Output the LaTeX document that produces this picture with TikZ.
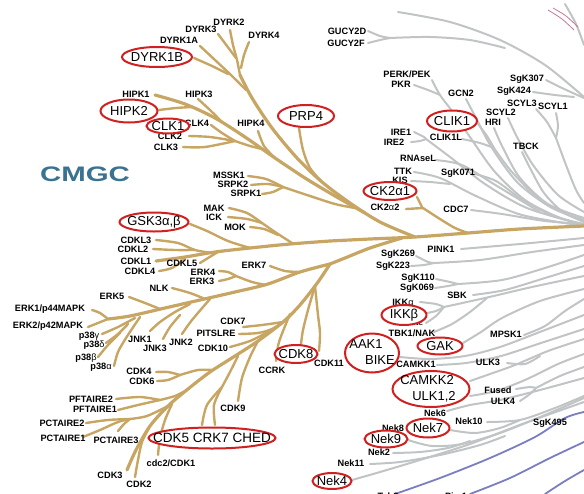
\documentclass[tikz,border=0pt]{standalone}
\usepackage{fontspec}
\setmainfont{Liberation Sans}
\usepackage{graphicx}
\usetikzlibrary{shapes.geometric}
\definecolor{tanbr}{RGB}{199,166,100}
\definecolor{grybr}{RGB}{192,196,196}
\definecolor{blubr}{RGB}{122,126,190}
\definecolor{pinkbr}{RGB}{196,120,150}
\definecolor{ringred}{RGB}{208,32,32}
\definecolor{cmgcblue}{RGB}{58,114,145}
\tikzset{
  tw/.style={draw=tanbr,line width=2.4pt,line cap=round},
  tk/.style={draw=tanbr,line width=3.2pt,line cap=round},
  gw/.style={draw=grybr,line width=2pt,line cap=round},
  bw/.style={draw=blubr,line width=1.8pt,line cap=round},
  lab/.style={font=\bfseries\fontsize{9.2}{10}\selectfont,inner sep=0pt},
  big/.style={font=\fontsize{13}{14}\selectfont,inner sep=0pt},
  ring/.style={draw=ringred,line width=2pt,fill=white,ellipse,inner sep=0pt},
}
\begin{document}
\begin{tikzpicture}[x=1pt,y=-1pt]
\useasboundingbox (0,0) rectangle (584,493);
\clip (0,0) rectangle (584,493);

% other groups, top right
\draw[gw] plot[smooth] coordinates {(398,12) (450,22) (500,40) (545,65) (584,97)};
\draw[gw] plot[smooth] coordinates {(368,31) (380,36) (390,38)};
\draw[gw] plot[smooth] coordinates {(368,43) (380,40) (390,38)};
\draw[gw] plot[smooth] coordinates {(390,38) (430,37) (470,40) (505,48)};
\draw[gw] plot[smooth] coordinates {(565,4) (576,24) (584,45)};
\draw[pinkbr,line width=0.8pt] plot[smooth] coordinates {(548,10) (562,19) (574,30)};
\draw[pinkbr,line width=0.8pt] plot[smooth] coordinates {(553,8) (566,16) (578,27)};
\draw[gw] plot[smooth] coordinates {(432,80) (440,95) (455,115) (472,140) (495,172) (525,200) (558,217) (584,224)};
\draw[gw] plot[smooth] coordinates {(414,85) (428,90) (440,95)};
\draw[gw] plot[smooth] coordinates {(466,99) (476,118) (492,148) (518,183) (552,208) (584,220)};
\draw[gw] plot[smooth] coordinates {(494,128) (503,148) (520,178) (548,204) (584,218)};
\draw[gw] plot[smooth] coordinates {(508,118) (517,137) (533,165) (558,195) (584,212)};
\draw[gw] plot[smooth] coordinates {(536,109) (547,122) (556,138)};
\draw[gw] plot[smooth] coordinates {(556,113) (558,126) (556,138)};
\draw[gw] plot[smooth] coordinates {(556,138) (566,165) (576,190) (584,203)};
\draw[gw] plot[smooth] coordinates {(546,80) (562,88) (584,98)};
\draw[gw] plot[smooth] coordinates {(533,92) (555,95) (574,97)};
\draw[gw] plot[smooth] coordinates {(522,152) (530,168) (544,193) (563,212) (584,221)};
\draw[gw] plot[smooth] coordinates {(478,124) (487,136) (494,148)};
\draw[gw] plot[smooth] coordinates {(462,139) (480,143) (494,148)};
\draw[gw] plot[smooth] coordinates {(494,148) (512,172) (543,202) (584,222)};
\draw[gw] plot[smooth] coordinates {(414,132) (424,137) (426,139)};
\draw[gw] plot[smooth] coordinates {(411,142) (420,141) (426,139)};
\draw[gw] plot[smooth] coordinates {(426,139) (450,157) (485,184) (527,208) (584,225)};
\draw[gw] plot[smooth] coordinates {(435,160) (462,165) (497,186) (540,212)};
\draw[gw] plot[smooth] coordinates {(414,172) (440,178) (476,196) (522,215) (584,226)};
\draw[gw] plot[smooth] coordinates {(411,181) (430,182) (450,184)};
\draw[gw] plot[smooth] coordinates {(475,174) (496,181) (520,198) (552,216)};
\draw[gw] plot[smooth] coordinates {(471,210) (502,214) (545,221) (584,224)};

% other groups, lower right
\draw[gw] plot[smooth] coordinates {(461,249) (520,244) (584,238)};
\draw[gw] plot[smooth] coordinates {(416,256) (428,262) (434,263)};
\draw[gw] plot[smooth] coordinates {(411,266) (424,265) (434,263)};
\draw[gw] plot[smooth] coordinates {(434,263) (480,260) (532,252) (584,245)};
\draw[gw] plot[smooth] coordinates {(436,279) (450,282) (458,284)};
\draw[gw] plot[smooth] coordinates {(435,288) (448,286) (458,284)};
\draw[gw] plot[smooth] coordinates {(458,284) (502,280) (545,268) (584,255)};
\draw[gw] plot[smooth] coordinates {(473,295) (505,290) (545,278) (584,266)};
\draw[gw] plot[smooth] coordinates {(420,302) (436,304) (444,307)};
\draw[gw] plot[smooth] coordinates {(427,313) (436,311) (444,307)};
\draw[gw] plot[smooth] coordinates {(426,323) (436,316) (444,307)};
\draw[gw] plot[smooth] coordinates {(444,307) (485,298) (532,287) (584,276)};
\draw[gw] plot[smooth] coordinates {(434,332) (452,324) (470,312) (487,298)};
\draw[gw] plot[smooth] coordinates {(524,335) (545,326) (565,311) (584,299)};
\draw[gw] plot[smooth] coordinates {(463,343) (481,332) (502,318) (540,301) (584,289)};
\draw[gw] plot[smooth] coordinates {(400,357) (430,359) (465,356) (500,347) (545,330) (584,315)};
\draw[gw] plot[smooth] coordinates {(437,365) (466,363) (501,356) (541,343) (584,329)};
\draw[gw] plot[smooth] coordinates {(470,381) (490,374) (515,365) (548,351) (584,339)};
\draw[gw] plot[smooth] coordinates {(507,363) (525,364) (540,356)};
\draw[gw] plot[smooth] coordinates {(470,396) (496,391) (525,380) (558,364) (584,354)};
\draw[gw] plot[smooth] coordinates {(516,389) (530,387) (536,388)};
\draw[gw] plot[smooth] coordinates {(520,401) (530,394) (536,388)};
\draw[gw] plot[smooth] coordinates {(536,388) (560,376) (584,367)};
\draw[gw] plot[smooth] coordinates {(447,411) (470,405) (500,400) (540,390) (584,378)};
\draw[gw] plot[smooth] coordinates {(487,422) (520,420) (555,408) (584,396)};
\draw[gw] plot[smooth] coordinates {(450,430) (475,433) (500,428) (520,420)};
\draw[gw] plot[smooth] coordinates {(408,440) (432,446) (462,444) (500,433) (545,415) (584,398)};
\draw[gw] plot[smooth] coordinates {(393,453) (420,452) (448,448) (470,441)};
\draw[gw] plot[smooth] coordinates {(370,464) (400,462) (440,455) (480,445) (505,436)};
\draw[gw] plot[smooth] coordinates {(352,480) (380,472) (420,460) (470,444) (525,423) (584,402)};
\draw[bw] plot[smooth] coordinates {(395,494) (440,478) (490,458) (535,437) (565,418) (584,412)};
\draw[bw] plot[smooth] coordinates {(470,494) (510,478) (550,458) (584,442)};
\draw[bw] plot[smooth] coordinates {(545,494) (565,481) (584,470)};

% CMGC trunk and main limbs
\draw[tk] plot[smooth] coordinates {(584,226) (520,229) (468,233) (415,237) (370,239) (330,241)};
\draw[tk] plot[smooth] coordinates {(415,237) (380,222) (350,203) (322,182) (297,158) (272,128) (252,98) (240,75)};
\draw[tk] plot[smooth] coordinates {(365,213) (335,196) (305,178) (275,158) (245,137) (215,118) (185,104) (155,95)};
\draw[tk] plot[smooth] coordinates {(330,241) (290,244) (250,248) (215,252) (185,257) (156,261)};
\draw[tk] plot[smooth] coordinates {(402,238) (370,248) (345,258) (330,264)};
\draw[tk] plot[smooth] coordinates {(330,264) (300,272) (268,284) (235,292) (200,300) (165,308) (130,316) (108,319)};
\draw[tk] plot[smooth] coordinates {(330,264) (318,282) (300,305) (283,322) (258,341) (235,356) (210,372) (188,389) (168,406) (150,426) (136,450) (127,470)};

% CMGC twigs, upper
\draw[tw] plot[smooth] coordinates {(230,30) (233,45) (237,60) (240,75)};
\draw[tw] plot[smooth] coordinates {(218,34) (227,46) (236,58)};
\draw[tw] plot[smooth] coordinates {(249,42) (244,55) (241,68)};
\draw[tw] plot[smooth] coordinates {(200,46) (215,60) (232,76) (246,90)};
\draw[tw] plot[smooth] coordinates {(194,58) (212,66) (228,74)};
\draw[tw] plot[smooth] coordinates {(299,128) (303,150) (310,168) (322,182)};
\draw[tw] plot[smooth] coordinates {(258,131) (264,146) (275,158)};
\draw[tw] plot[smooth] coordinates {(159,110) (176,108) (192,107)};
\draw[tw] plot[smooth] coordinates {(198,99) (210,110) (222,122)};
\draw[tw] plot[smooth] coordinates {(211,125) (222,133) (235,141)};
\draw[tw] plot[smooth] coordinates {(189,136) (210,137) (235,141)};
\draw[tw] plot[smooth] coordinates {(183,147) (205,147) (235,141)};
\draw[tw] plot[smooth] coordinates {(235,141) (250,146) (262,149)};
\draw[tw] plot[smooth] coordinates {(248,176) (266,179) (283,187)};
\draw[tw] plot[smooth] coordinates {(251,185) (268,184) (283,187)};
\draw[tw] plot[smooth] coordinates {(262,194) (273,192) (283,187)};
\draw[tw] plot[smooth] coordinates {(283,187) (310,196) (335,204) (355,208)};
\draw[tw] plot[smooth] coordinates {(417,197) (422,207)};
\draw[tw] plot[smooth] coordinates {(406,209) (423,208)};
\draw[tw] plot[smooth] coordinates {(423,208) (440,219) (455,228) (468,233)};

% CMGC twigs, GSK3 and CDKL
\draw[tw] plot[smooth] coordinates {(156,240) (178,243) (195,250) (212,253)};
\draw[tw] plot[smooth] coordinates {(153,249) (175,250) (195,250)};
\draw[tw] plot[smooth] coordinates {(159,271) (172,268) (185,259)};
\draw[tw] plot[smooth] coordinates {(200,263) (208,258) (218,252)};
\draw[tw] plot[smooth] coordinates {(190,224) (207,231) (228,241) (250,248)};
\draw[tw] plot[smooth] coordinates {(229,208) (247,213) (262,223)};
\draw[tw] plot[smooth] coordinates {(228,217) (247,219) (262,223)};
\draw[tw] plot[smooth] coordinates {(262,223) (275,232) (292,243)};
\draw[tw] plot[smooth] coordinates {(250,227) (264,229) (278,235)};

% CMGC twigs, MAPK
\draw[tw] plot[smooth] coordinates {(92,310) (100,313) (108,319)};
\draw[tw] plot[smooth] coordinates {(88,327) (98,323) (108,319)};
\draw[tw] plot[smooth] coordinates {(270,266) (285,271) (300,272)};
\draw[tw] plot[smooth] coordinates {(219,271) (228,272) (236,276)};
\draw[tw] plot[smooth] coordinates {(219,281) (228,279) (236,276)};
\draw[tw] plot[smooth] coordinates {(236,276) (252,282) (266,285)};
\draw[tw] plot[smooth] coordinates {(172,288) (190,293) (205,299)};
\draw[tw] plot[smooth] coordinates {(129,297) (145,303) (160,309)};
\draw[tw] plot[smooth] coordinates {(150,331) (160,322) (175,312) (190,304)};
\draw[tw] plot[smooth] coordinates {(163,339) (170,327) (180,315)};
\draw[tw] plot[smooth] coordinates {(182,334) (192,320) (210,299)};
\draw[tw] plot[smooth] coordinates {(102,334) (118,327) (135,318)};
\draw[tw] plot[smooth] coordinates {(106,343) (118,334) (128,324)};
\draw[tw] plot[smooth] coordinates {(98,357) (108,345) (120,333)};
\draw[tw] plot[smooth] coordinates {(114,366) (118,352) (126,338) (140,317)};

% CMGC twigs, CDK
\draw[tw] plot[smooth] coordinates {(315,286) (308,310) (303,330) (301,344)};
\draw[tw] plot[smooth] coordinates {(315,286) (318,315) (320,333) (319,351)};
\draw[tw] plot[smooth] coordinates {(243,327) (262,325) (283,322)};
\draw[tw] plot[smooth] coordinates {(239,334) (258,333) (272,329) (283,322)};
\draw[tw] plot[smooth] coordinates {(230,347) (250,341) (268,332)};
\draw[tw] plot[smooth] coordinates {(276,361) (279,342) (290,314)};
\draw[tw] plot[smooth] coordinates {(238,401) (242,378) (250,357) (258,341)};
\draw[tw] plot[smooth] coordinates {(202,425) (207,405) (222,387)};
\draw[tw] plot[smooth] coordinates {(215,425) (214,405) (222,387)};
\draw[tw] plot[smooth] coordinates {(222,387) (230,372) (238,356)};
\draw[tw] plot[smooth] coordinates {(156,372) (168,372) (180,375)};
\draw[tw] plot[smooth] coordinates {(157,381) (168,380) (180,375)};
\draw[tw] plot[smooth] coordinates {(180,375) (198,370) (212,370)};
\draw[tw] plot[smooth] coordinates {(116,399) (140,397) (160,400)};
\draw[tw] plot[smooth] coordinates {(118,410) (138,405) (160,400)};
\draw[tw] plot[smooth] coordinates {(160,400) (175,396) (187,390)};
\draw[tw] plot[smooth] coordinates {(86,423) (108,420) (130,419)};
\draw[tw] plot[smooth] coordinates {(83,437) (100,430) (118,422) (130,419)};
\draw[tw] plot[smooth] coordinates {(118,431) (124,424) (130,419)};
\draw[tw] plot[smooth] coordinates {(130,419) (147,416) (168,406)};
\draw[tw] plot[smooth] coordinates {(158,455) (160,438) (165,420) (172,404)};
\draw[tw] plot[smooth] coordinates {(135,477) (138,460) (142,442) (149,428)};

% group title
\node[font=\bfseries\fontsize{21}{22}\selectfont,text=cmgcblue] (cmgc) at (85,174) {\scalebox{1.4}[1]{CMGC}};

% kinase labels
\node[lab] (dyrkb2) at (229,22) {DYRK2};
\node[lab] (dyrkc) at (201,29) {DYRK3};
\node[lab] (dyrkd) at (264,35) {DYRK4};
\node[lab] (dyrka) at (179,40) {DYRK1A};
\node[lab] (hipka) at (136,94) {HIPK1};
\node[lab] (hipkc) at (199,94) {HIPK3};
\node[lab] (clkd) at (197,123) {CLK4};
\node[lab] (clkb) at (170,136) {CLK2};
\node[lab] (clkc) at (166,147) {CLK3};
\node[lab] (hipkd) at (251,123) {HIPK4};
\node[lab] (msska) at (229,175) {MSSK1};
\node[lab] (srpkb) at (233,184) {SRPK2};
\node[lab] (srpka) at (246,193) {SRPK1};
\node[lab] (mak) at (214,208) {MAK};
\node[lab] (ick) at (214,217) {ICK};
\node[lab] (mok) at (235,227) {MOK};
\node[lab] (cdklc) at (136,240) {CDKL3};
\node[lab] (cdklb) at (133,249) {CDKL2};
\node[lab] (cdkla) at (136,261) {CDKL1};
\node[lab] (cdkld) at (140,271) {CDKL4};
\node[lab] (cdkle) at (182,263) {CDKL5};
\node[lab] (erkd) at (203,272) {ERK4};
\node[lab] (erkc) at (202,281) {ERK3};
\node[lab] (erkg) at (254,265) {ERK7};
\node[lab] (nlk) at (159,288) {NLK};
\node[lab] (erke) at (112,296) {ERK5};
\node[lab] (erka) at (50,309) {ERK1/p44MAPK};
\node[lab] (erkb) at (48,326) {ERK2/p42MAPK};
\node[lab] (cdkg) at (233,321) {CDK7};
\node[lab] (pitslre) at (216,333) {PITSLRE};
\node[lab] (cdkj) at (213,348) {CDK10};
\node[lab] (pgam) at (89,336) {p38{\mdseries γ}};
\node[lab] (pdel) at (94,345) {p38{\mdseries δ}};
\node[lab] (pbet) at (86,358) {p38{\mdseries β}};
\node[lab] (palp) at (101,367) {p38{\mdseries α}};
\node[lab] (jnka) at (140,339) {JNK1};
\node[lab] (jnkc) at (155,348) {JNK3};
\node[lab] (jnkb) at (181,342) {JNK2};
\node[lab] (cdkd) at (139,371) {CDK4};
\node[lab] (cdkf) at (142,381) {CDK6};
\node[lab] (ccrk) at (272,370) {CCRK};
\node[lab] (cdkk) at (329,363) {CDK11};
\node[lab] (pftb) at (91,399) {PFTAIRE2};
\node[lab] (pfta) at (95,409) {PFTAIRE1};
\node[lab] (pctb) at (62,423) {PCTAIRE2};
\node[lab] (pcta) at (63,438) {PCTAIRE1};
\node[lab] (pctc) at (116,440) {PCTAIRE3};
\node[lab] (cdki) at (233,408) {CDK9};
\node[lab] (cdka) at (171,463) {cdc2/CDK1};
\node[lab] (cdkc) at (110,475) {CDK3};
\node[lab] (cdkb) at (139,484) {CDK2};
\node[lab] (ckb) at (385,207) {CK2{\mdseries α}2};
\node[lab] (gucd) at (347,31) {GUCY2D};
\node[lab] (gucf) at (346,43) {GUCY2F};
\node[lab] (perk) at (407,74) {PERK/PEK};
\node[lab] (pkr) at (401,84) {PKR};
\node[lab] (gcn) at (461,93) {GCN2};
\node[lab] (sgka) at (527,79) {SgK307};
\node[lab] (sgkb) at (514,91) {SgK424};
\node[lab] (scylc) at (522,103) {SCYL3};
\node[lab] (scyla) at (553,106) {SCYL1};
\node[lab] (scylb) at (501,112) {SCYL2};
\node[lab] (hri) at (493,122) {HRI};
\node[lab] (tbck) at (526,146) {TBCK};
\node[lab] (irea) at (401,132) {IRE1};
\node[lab] (ireb) at (394,142) {IRE2};
\node[lab] (clikl) at (446,137) {CLIK1L};
\node[lab] (rnasel) at (418,158) {RNAseL};
\node[lab] (ttk) at (403,171) {TTK};
\node[lab] (kis) at (400,180) {KIS};
\node[lab] (sgkc) at (458,173) {SgK071};
\node[lab] (cdcs) at (456,209) {CDC7};
\node[lab] (pink) at (441,249) {PINK1};
\node[lab] (sgkd) at (398,254) {SgK269};
\node[lab] (sgke) at (393,266) {SgK223};
\node[lab] (sgkf) at (418,278) {SgK110};
\node[lab] (sgkg) at (417,288) {SgK069};
\node[lab] (sbk) at (457,295) {SBK};
\node[lab] (ikka) at (403,302) {IKK{\mdseries α}};
\node[lab] (ikke) at (413,322) {IKK{\mdseries ε}};
\node[lab] (tbk) at (412,333) {TBK1/NAK};
\node[lab] (mpsk) at (506,334) {MPSK1};
\node[lab] (camkka) at (416,364) {CAMKK1};
\node[lab] (ulkc) at (488,362) {ULK3};
\node[lab] (fused) at (498,390) {Fused};
\node[lab] (ulkd) at (503,401) {ULK4};
\node[lab] (nekf) at (435,413) {Nek6};
\node[lab] (nekj) at (469,421) {Nek10};
\node[lab] (sgkh) at (550,423) {SgK495};
\node[lab] (nekh) at (393,428) {Nek8};
\node[lab] (nekb) at (379,452) {Nek2};
\node[lab] (nekk) at (351,463) {Nek11};
\node[lab] (tsb) at (388,496) {Tsb2};
\node[lab] (pim) at (456,496) {Pim1};

% circled kinases
\node[ring,minimum width=70pt,minimum height=20pt] (dyrkbr) at (157,57) {};
\node[big] (dyrkb) at (157,57) {DYRK1B};
\node[ring,minimum width=57pt,minimum height=23pt] (hipkbr) at (129,111) {};
\node[big] (hipkb) at (129,111) {HIPK2};
\node[ring,minimum width=43pt,minimum height=15pt] (clkar) at (168,126) {};
\node[big] (clka) at (168,126) {CLK1};
\node[ring,minimum width=56pt,minimum height=22pt] (prpr) at (306,116) {};
\node[big] (prp) at (306,116) {PRP4};
\node[ring,minimum width=50pt,minimum height=21pt] (clikr) at (452,121) {};
\node[big] (clik) at (452,121) {CLIK1};
\node[ring,minimum width=53pt,minimum height=18pt] (ckar) at (390,191) {};
\node[big] (cka) at (390,191) {CK2α1};
\node[ring,minimum width=69pt,minimum height=19pt] (gskr) at (154,222) {};
\node[big] (gsk) at (154,222) {GSK3α,β};
\node[ring,minimum width=45pt,minimum height=20pt] (ikkbr) at (404,315) {};
\node[big] (ikkb) at (404,315) {IKKβ};
\node[ring,minimum width=54pt,minimum height=39pt] (aakr) at (372,353) {};
\node[big] (aak) at (366,344) {AAK1};
\node[big] (bike) at (380,360) {BIKE};
\node[ring,minimum width=45pt,minimum height=17pt] (gakr) at (440,346) {};
\node[big] (gak) at (440,346) {GAK};
\node[ring,minimum width=77pt,minimum height=36pt] (camr) at (431,389) {};
\node[big] (camkkb) at (427,380) {CAMKK2};
\node[big] (ulkab) at (434,397) {ULK1,2};
\node[ring,minimum width=43pt,minimum height=18pt] (cdkhr) at (296,354) {};
\node[big] (cdkh) at (296,354) {CDK8};
\node[ring,minimum width=127pt,minimum height=21pt] (cdker) at (212,438) {};
\node[big,font=\fontsize{13.5}{14}\selectfont] (cdke) at (212,438) {CDK5 CRK7 CHED};
\node[ring,minimum width=43pt,minimum height=19pt] (nekgr) at (428,428) {};
\node[big] (nekg) at (428,428) {Nek7};
\node[ring,minimum width=43pt,minimum height=17pt] (nekir) at (386,439) {};
\node[big] (neki) at (386,439) {Nek9};
\node[ring,minimum width=39pt,minimum height=16pt] (nekdr) at (332,481) {};
\node[big] (nekd) at (332,481) {Nek4};
\end{tikzpicture}
\end{document}
